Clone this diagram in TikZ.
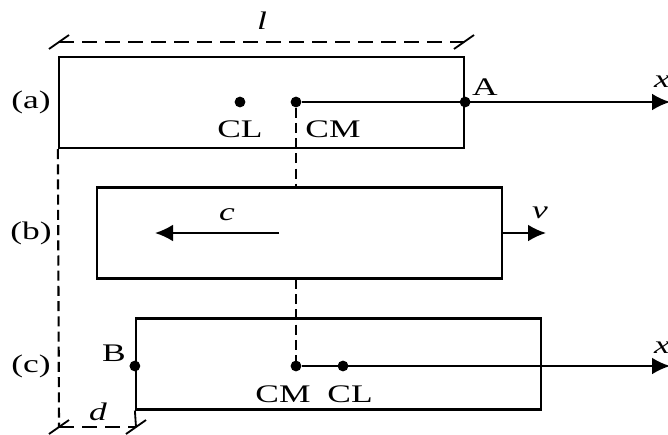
\documentclass[tikz,border=0pt]{standalone}
\usepackage{fontspec}
\setmainfont{Liberation Serif}[FakeStretch=1.4]
\usetikzlibrary{arrows.meta}

\tikzset{
  bar/.style={draw, line width=1.5pt, minimum width=10.125cm, minimum height=2.275cm, inner sep=0pt, fill=white},
  pt/.style={circle, fill, inner sep=0pt, minimum size=0.27cm},
  lbl/.style={inner sep=0pt},
  axis/.style={line width=1.4pt, -{Latex[length=0.45cm,width=0.42cm]}},
  hdash/.style={line width=1.4pt, dash pattern=on 0.375cm off 0.2cm},
  vdash/.style={line width=1.5pt, dash pattern=on 0.25cm off 0.13cm},
  tick/.style={line width=1.3pt},
}

\begin{document}
\begin{tikzpicture}[x=0.025cm, y=-0.025cm, font=\fontsize{18}{21}\selectfont]
    \useasboundingbox (0,0) rectangle (668,434);

    % (a) rod at rest
    \node[bar] (boxa) at (261.5,102.5) {};
    \node[pt] (cla) at (240,102) {};
    \node[pt] (cma) at (296,102) {};
    \node[pt] (ptA) at (boxa.east |- cma) {};
    \coordinate (xa) at (670,102);
    \draw[axis] (cma) -- (xa);

    \node[lbl] (taga) at (31,102) {(a)};
    \node[lbl] (tcla) at (240,129) {CL};
    \node[lbl] (tcma) at (333,129) {CM};
    \node[lbl] (tA) at (485,87) {A};
    \node[lbl] (txa) at (662,82) {\textit{x}};

    % (b) rod moving
    \draw[vdash] (cma) -- (cma |- 0,187);
    \draw[vdash] (cma |- 0,279) -- (cma |- 0,366);
    \node[bar] (boxb) at (299.5,233) {};
    \coordinate (ct) at (279,233);
    \coordinate (ch) at (155,233);
    \coordinate (vh) at (546,233);
    \draw[axis] (ct) -- (ch);
    \draw[axis] (boxb.east) -- (vh);

    \node[lbl] (tagb) at (31,233) {(b)};
    \node[lbl] (tc) at (227,215) {\textit{c}};
    \node[lbl] (tv) at (540,213) {\textit{v}};

    % (c) rod after stopping
    \node[bar, fill=none] (boxc) at (338.5,364) {};
    \node[pt] (cmc) at (296,366) {};
    \node[pt] (clc) at (343,366) {};
    \node[pt] (ptB) at (boxc.west |- cmc) {};
    \coordinate (xc) at (670,366);
    \draw[axis] (cmc) -- (xc);

    \node[lbl] (tagc) at (31,366) {(c)};
    \node[lbl] (tB) at (114,353) {B};
    \node[lbl] (tcmc) at (283,394) {CM};
    \node[lbl] (tclc) at (350,394) {CL};
    \node[lbl] (txc) at (662,348) {\textit{x}};

    % length l
    \coordinate (la) at (59,42);
    \coordinate (lb) at (464,42);
    \draw[hdash] (la) -- (lb);
    \draw[tick] ([shift={(-10,7)}]la) -- ([shift={(10,-7)}]la);
    \draw[tick] ([shift={(-10,7)}]lb) -- ([shift={(10,-7)}]lb);
    \node[lbl] (tl) at (262,21) {\textit{l}};

    % shift d
    \coordinate (da) at (59,427);
    \coordinate (db) at (136,427);
    \draw[vdash] (boxa.south west) -- (da);
    \draw[hdash] (da) -- (db);
    \draw[tick] ([shift={(-10,7)}]da) -- ([shift={(10,-7)}]da);
    \draw[tick] ([shift={(-10,7)}]db) -- ([shift={(10,-7)}]db);
    \draw[tick] (boxc.south west) -- (db);
    \node[lbl] (td) at (98,412) {\textit{d}};
\end{tikzpicture}
\end{document}
